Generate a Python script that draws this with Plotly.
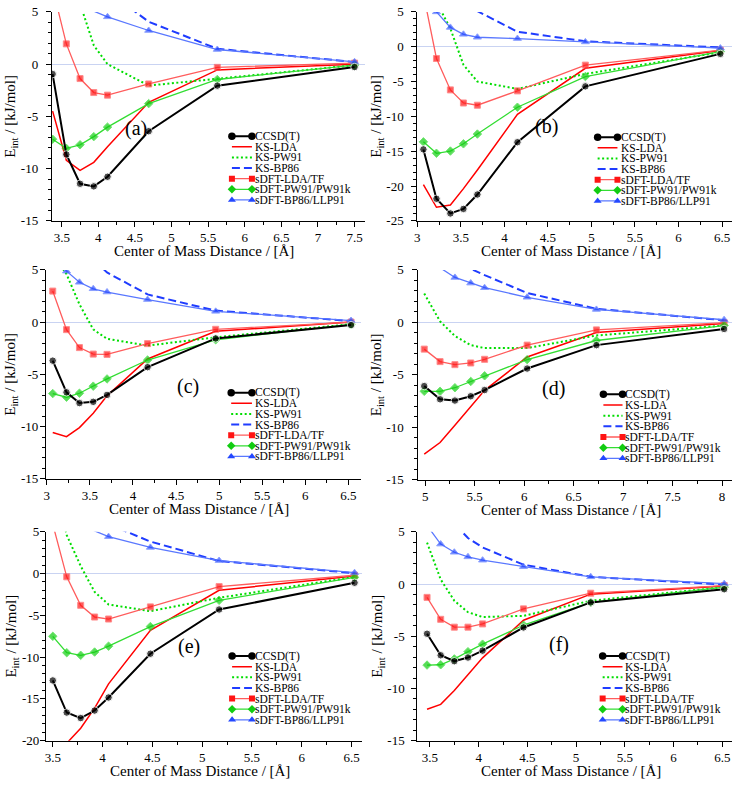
import plotly.graph_objects as go

FONT = "Liberation Serif, Times New Roman, serif"

# ---------------- data ----------------
SERIES_NAMES = ["CCSD(T)", "KS-LDA", "KS-PW91", "KS-BP86",
                "sDFT-LDA/TF", "sDFT-PW91/PW91k", "sDFT-BP86/LLP91"]
PANEL_LABELS = ["(a)", "(b)", "(c)", "(d)", "(e)", "(f)"]
X_TITLE = "Center of Mass Distance / [Å]"
Y_TITLE = "E<sub>int</sub> / [kJ/mol]"

# panel (a)
A_X = [3.375, 3.5625, 3.75, 3.9375, 4.125, 4.6875, 5.625, 7.5]
A_CCSDT = [-0.95, -8.65, -11.45, -11.7, -10.78, -6.42, -2.06, -0.28]
A_LDA = [-4.5, -9.2, -10.16, -9.4, -7.9, -3.65, -0.55, 0.0]
A_PW91 = [20, 11, 5.8, 1.8, 0.0, -2.05, -1.4, -0.1]
A_BP86 = [30, 20, 14, 10, 7.0, 4.06, 1.47, 0.2]
A_SLDA = [7.3, 1.94, -1.38, -2.72, -2.97, -1.9, -0.31, 0.1]
A_SPW91 = [-7.19, -8.06, -7.72, -6.94, -6.03, -3.78, -1.47, -0.1]
A_SBP86 = [12, 8.5, 6.5, 5.07, 4.53, 3.22, 1.4, 0.22]
A_YTICKS = [-15, -10, -5, 0, 5]

# panel (b)
B_X = [3.07, 3.22, 3.38, 3.53, 3.69, 4.15, 4.93, 6.48]
B_CCSDT = [-14.74, -21.83, -23.94, -23.29, -21.22, -13.71, -5.69, -1.03]
B_LDA = [-19.81, -23.05, -22.72, -20.38, -17.7, -9.72, -3.1, -0.55]
B_PW91 = [12, 6.4, 2.6, -2.6, -5.0, -6.05, -3.9, -0.8]
B_BP86 = [14, 10, 7.2, 6.0, 5.1, 2.16, 0.78, -0.1]
B_SLDA = [7.6, -1.69, -6.2, -8.08, -8.4, -6.34, -2.64, -0.5]
B_SPW91 = [-13.66, -15.3, -14.98, -13.94, -12.54, -8.69, -4.28, -0.7]
B_SBP86 = [8, 5.0, 2.77, 1.78, 1.36, 1.17, 0.69, -0.2]
B_YTICKS = [-25, -20, -15, -10, -5, 0, 5]

# panel (c)
C_X = [3.07, 3.23, 3.38, 3.54, 3.70, 4.17, 4.96, 6.53]
C_CCSDT = [-3.69, -6.72, -7.75, -7.63, -6.97, -4.31, -1.56, -0.28]
C_LDA = [-10.56, -10.97, -10.1, -8.72, -7.06, -3.53, -0.88, 0.0]
C_PW91 = [6.5, 4.6, 1.7, -0.7, -1.6, -2.25, -1.45, -0.2]
C_BP86 = [14, 10, 8, 6.0, 4.75, 2.65, 1.1, 0.1]
C_SLDA = [2.97, -0.72, -2.44, -3.06, -3.09, -2.06, -0.69, 0.0]
C_SPW91 = [-6.84, -7.19, -6.81, -6.13, -5.44, -3.63, -1.69, -0.22]
C_SBP86 = [7.0, 4.88, 3.81, 3.19, 2.88, 2.16, 1.03, 0.15]
C_YTICKS = [-15, -10, -5, 0, 5]

# panel (d)
D_X = [4.99, 5.15, 5.30, 5.46, 5.60, 6.03, 6.73, 8.02]
D_CCSDT = [-6.07, -7.33, -7.45, -7.04, -6.45, -4.4, -2.17, -0.63]
D_LDA = [-12.55, -11.45, -9.8, -8.05, -6.48, -3.3, -0.97, -0.1]
D_PW91 = [2.74, 0.1, -1.3, -2.17, -2.45, -2.45, -1.25, -0.3]
D_BP86 = [10, 8, 6.5, 5.1, 4.5, 2.8, 1.29, 0.2]
D_SLDA = [-2.55, -3.74, -4.03, -3.87, -3.52, -2.17, -0.72, -0.03]
D_SPW91 = [-6.57, -6.57, -6.23, -5.63, -5.09, -3.55, -1.73, -0.31]
D_SBP86 = [6.0, 5.2, 4.28, 3.74, 3.3, 2.39, 1.23, 0.25]
D_YTICKS = [-15, -10, -5, 0, 5]

# panel (e)
E_X = [3.50, 3.64, 3.78, 3.92, 4.06, 4.48, 5.17, 6.53]
E_CCSDT = [-12.79, -16.63, -17.29, -16.39, -14.83, -9.59, -4.3, -1.1]
E_LDA = [-22.5, -20.3, -18.5, -16.1, -13.2, -6.8, -2.0, -0.3]
E_PW91 = [12, 4.6, 0.9, -2.2, -3.7, -4.5, -2.9, -0.4]
E_BP86 = [20, 14, 10, 7.5, 5.9, 3.83, 1.5, 0.05]
E_SLDA = [5.9, -0.39, -3.8, -5.2, -5.44, -3.99, -1.56, -0.2]
E_SPW91 = [-7.51, -9.47, -9.78, -9.39, -8.69, -6.34, -3.2, -0.45]
E_SBP86 = [9, 7, 6, 5.1, 4.42, 3.13, 1.55, 0.1]
E_YTICKS = [-20, -15, -10, -5, 0, 5]

# panel (f)
F_X = [3.47, 3.61, 3.75, 3.89, 4.04, 4.46, 5.15, 6.52]
F_CCSDT = [-4.76, -6.82, -7.39, -7.04, -6.38, -4.16, -1.76, -0.5]
F_LDA = [-11.99, -11.52, -10.2, -8.64, -7.07, -3.47, -0.97, -0.2]
F_PW91 = [3.97, 0.44, -1.6, -2.7, -3.16, -3.05, -1.6, -0.3]
F_BP86 = [12, 9, 5.8, 4.4, 3.5, 1.85, 0.69, -0.05]
F_SLDA = [-1.28, -3.38, -4.13, -4.13, -3.82, -2.38, -0.88, -0.15]
F_SPW91 = [-7.76, -7.73, -7.17, -6.48, -5.76, -3.94, -1.76, -0.3]
F_SBP86 = [5.6, 3.82, 3.04, 2.6, 2.28, 1.66, 0.69, 0.03]
F_YTICKS = [-15, -10, -5, 0, 5]

PANEL_DATA = [
    (A_X, [A_CCSDT, A_LDA, A_PW91, A_BP86, A_SLDA, A_SPW91, A_SBP86], A_YTICKS),
    (B_X, [B_CCSDT, B_LDA, B_PW91, B_BP86, B_SLDA, B_SPW91, B_SBP86], B_YTICKS),
    (C_X, [C_CCSDT, C_LDA, C_PW91, C_BP86, C_SLDA, C_SPW91, C_SBP86], C_YTICKS),
    (D_X, [D_CCSDT, D_LDA, D_PW91, D_BP86, D_SLDA, D_SPW91, D_SBP86], D_YTICKS),
    (E_X, [E_CCSDT, E_LDA, E_PW91, E_BP86, E_SLDA, E_SPW91, E_SBP86], E_YTICKS),
    (F_X, [F_CCSDT, F_LDA, F_PW91, F_BP86, F_SLDA, F_SPW91, F_SBP86], F_YTICKS),
]

# ---------------- styles / layout ----------------
W, H = 734, 785
STYLES = [
    dict(line=dict(color="#000000", width=2), marker=dict(symbol="circle", size=7.5, color="#000000")),
    dict(line=dict(color="#ff0000", width=1.5), marker=None),
    dict(line=dict(color="#00dd00", width=2, dash="2px,2.5px"), marker=None),
    dict(line=dict(color="#1f3cff", width=2, dash="8px,4px"), marker=None),
    dict(line=dict(color="#ff5c5c", width=1.3), marker=dict(symbol="square", size=6, color="#ff1414")),
    dict(line=dict(color="#33dd33", width=1.3), marker=dict(symbol="diamond", size=6.5, color="#11cc11")),
    dict(line=dict(color="#5a78ff", width=1.3), marker=dict(symbol="triangle-up", size=7, color="#2448ff")),
]
DRAW_ORDER = [1, 2, 3, 4, 5, 6, 0]

# pixel boxes of plot areas: (left, right, top, bottom), axis ranges, label & legend placement
PANEL_LAYOUT = [
    dict(box=(49, 363, 5, 218), xr=(3.364, 7.636), yr=(-15, 5), lab=(0.270, 0.440), leg=(0.576, 0.640, 0.644, 0.405), ylso=5, xts=-30),
    dict(box=(416, 732, 5, 218), xr=(3.0, 6.614), yr=(-25, 5), lab=(0.412, 0.450), leg=(0.573, 0.636, 0.641, 0.400), ylso=5, xts=-30),
    dict(box=(43, 359, 268, 481), xr=(2.99, 6.64), yr=(-15, 5), lab=(0.453, 0.440), leg=(0.589, 0.655, 0.657, 0.412), ylso=-1, xts=-30),
    dict(box=(417, 732, 268, 482), xr=(4.93, 8.10), yr=(-15, 5), lab=(0.432, 0.433), leg=(0.590, 0.651, 0.652, 0.407), ylso=6, xts=-30),
    dict(box=(43, 360, 535, 748), xr=(3.43, 6.60), yr=(-20, 5), lab=(0.454, 0.450), leg=(0.590, 0.653, 0.655, 0.405), ylso=-2, xts=-30),
    dict(box=(416, 732, 535, 748), xr=(3.37, 6.60), yr=(-15, 5), lab=(0.450, 0.459), leg=(0.589, 0.652, 0.653, 0.405), ylso=4, xts=-30),
]
LEG_DY = 0.0508

fig = go.Figure()
annotations = []
layout_axes = {}

for k, ((xs, series, yticks), pl) in enumerate(zip(PANEL_DATA, PANEL_LAYOUT), start=1):
    xa = "x" if k == 1 else f"x{k}"
    ya = "y" if k == 1 else f"y{k}"
    l, r, t, b = pl["box"]
    x0r, x1r = pl["xr"]
    y0r, y1r = pl["yr"]

    # data traces
    for i in DRAW_ORDER:
        st = STYLES[i]
        ys = series[i]
        tr = dict(x=xs, y=ys, xaxis=xa, yaxis=ya, showlegend=False,
                  line=st["line"], hoverinfo="skip")
        if st["marker"] is not None:
            m = dict(st["marker"])
            m["size"] = [m["size"] if y0r <= v <= y1r else 0 for v in ys]
            tr.update(mode="lines+markers", marker=m)
        else:
            tr.update(mode="lines")
        fig.add_trace(go.Scatter(**tr))

    # legend keys (xmgrace style: markers at both ends of the sample line)
    lx0, lx1, ltx, ly0 = pl["leg"]
    for i, name in enumerate(SERIES_NAMES):
        st = STYLES[i]
        fy = ly0 - i * LEG_DY
        yd = y0r + fy * (y1r - y0r)
        xd = [x0r + lx0 * (x1r - x0r), x0r + lx1 * (x1r - x0r)]
        tr = dict(x=xd, y=[yd, yd], xaxis=xa, yaxis=ya, showlegend=False,
                  line=st["line"], hoverinfo="skip")
        if st["marker"] is not None:
            tr.update(mode="lines+markers", marker=st["marker"])
        else:
            tr.update(mode="lines")
        fig.add_trace(go.Scatter(**tr))
        annotations.append(dict(text=name, xref=f"{xa} domain", yref=f"{ya} domain",
                                x=ltx, y=fy, xanchor="left", yanchor="middle", showarrow=False,
                                font=dict(family=FONT, size=11.5, color="black")))

    # panel label
    annotations.append(dict(text=PANEL_LABELS[k - 1], xref=f"{xa} domain", yref=f"{ya} domain",
                            x=pl["lab"][0], y=pl["lab"][1], xanchor="center", yanchor="middle",
                            showarrow=False, font=dict(family=FONT, size=20, color="black")))
    # x axis title
    annotations.append(dict(text=X_TITLE, xref=f"{xa} domain", yref=f"{ya} domain",
                            x=0.5, y=0, xshift=-4, yshift=pl["xts"], xanchor="center", yanchor="middle",
                            showarrow=False, font=dict(family=FONT, size=15, color="black")))

    axis_common = dict(showline=True, linecolor="black", linewidth=1, ticks="outside",
                       ticklen=5, tickwidth=1, tickcolor="black", showgrid=False,
                       tickfont=dict(family=FONT, size=13, color="black"))
    layout_axes["xaxis" if k == 1 else f"xaxis{k}"] = dict(
        domain=[l / W, r / W], range=[x0r, x1r], anchor=ya, zeroline=False,
        tickmode="linear", tick0=0, dtick=0.5,
        minor=dict(dtick=0.25, ticks="outside", ticklen=3, tickcolor="black", showgrid=False),
        **axis_common)
    layout_axes["yaxis" if k == 1 else f"yaxis{k}"] = dict(
        domain=[1 - b / H, 1 - t / H], range=[y0r, y1r], anchor=xa,
        tickmode="array", tickvals=yticks, ticktext=[str(v) for v in yticks],
        ticklabelstandoff=pl["ylso"],
        title=dict(text=Y_TITLE, standoff=1, font=dict(family=FONT, size=15, color="black")),
        zeroline=True, zerolinecolor="#c9d3f2", zerolinewidth=1,
        minor=dict(dtick=1, tick0=0, ticks="outside", ticklen=3, tickcolor="black", showgrid=False),
        **axis_common)

fig.update_layout(
    width=W, height=H, margin=dict(l=0, r=0, t=0, b=0),
    paper_bgcolor="white", plot_bgcolor="white",
    showlegend=False, annotations=annotations,
    font=dict(family=FONT, size=13, color="black"),
    **layout_axes,
)

fig.write_html("out.html", config={"displayModeBar": False},
               post_script="document.body.style.margin='0px';document.body.style.padding='0px';")
